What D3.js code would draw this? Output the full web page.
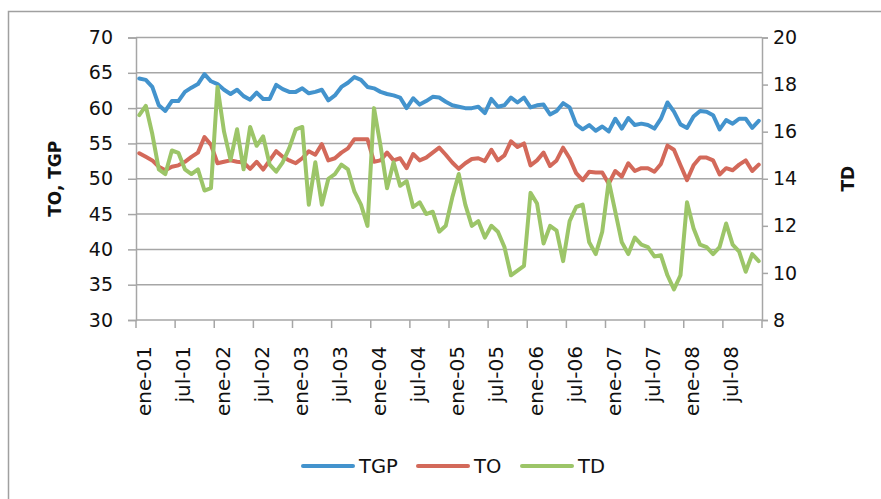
<!DOCTYPE html>
<html>
<head>
<meta charset="utf-8">
<script src="https://cdnjs.cloudflare.com/ajax/libs/d3/7.8.5/d3.min.js"></script>
<style>
  body { margin: 0; background: #fff; }
  text { font-family: "DejaVu Sans", sans-serif; fill: #111; }
</style>
</head>
<body>
<div id="chart"></div>
<script>
var monthNames = ["ene", "feb", "mar", "abr", "may", "jun", "jul", "ago", "sep", "oct", "nov", "dic"];
var years = ["01", "02", "03", "04", "05", "06", "07", "08"];

var tgp = [64.2, 64.0, 63.0, 60.4, 59.6, 61.0, 61.0, 62.3, 62.9, 63.4, 64.8, 63.8,
  63.4, 62.6, 62.0, 62.6, 61.7, 61.2, 62.2, 61.3, 61.3, 63.3, 62.7, 62.3,
  62.3, 62.8, 62.1, 62.3, 62.6, 61.1, 61.8, 63.0, 63.6, 64.4, 64.0, 63.0,
  62.8, 62.3, 62.0, 61.8, 61.5, 60.0, 61.4, 60.5, 61.0, 61.6, 61.5, 60.9,
  60.4, 60.2, 60.0, 60.0, 60.2, 59.3, 61.3, 60.2, 60.4, 61.5, 60.8, 61.5,
  60.1, 60.4, 60.5, 59.1, 59.6, 60.7, 60.1, 57.7, 57.0, 57.6, 56.8, 57.4,
  56.7, 58.5, 57.1, 58.6, 57.6, 57.8, 57.6, 57.1, 58.5, 60.8, 59.5, 57.7,
  57.2, 58.8, 59.6, 59.5, 59.0, 57.0, 58.3, 57.8, 58.5, 58.5, 57.2, 58.2];

var to = [53.6, 53.1, 52.6, 51.7, 51.2, 51.7, 51.9, 52.4, 53.1, 53.7, 55.9, 54.8,
  52.2, 52.4, 52.6, 52.4, 52.3, 51.4, 52.4, 51.3, 52.6, 53.9, 53.1, 52.6,
  52.2, 52.9, 53.9, 53.4, 54.9, 52.6, 52.9, 53.7, 54.3, 55.6, 55.6, 55.6,
  52.4, 52.6, 53.7, 52.6, 52.9, 51.5, 53.5, 52.6, 53.0, 53.7, 54.4, 53.4,
  52.3, 51.4, 52.2, 52.8, 52.9, 52.5, 54.1, 52.6, 53.3, 55.3, 54.5, 55.0,
  51.9, 52.6, 53.7, 51.8, 52.6, 54.4, 52.9, 50.8, 49.8, 51.0, 50.9, 50.9,
  49.3, 51.1, 50.3, 52.2, 51.1, 51.5, 51.5, 51.0, 52.1, 54.7, 54.1, 51.9,
  49.8, 51.9, 53.0, 53.0, 52.6, 50.6, 51.5, 51.2, 52.0, 52.6, 51.1, 52.0];

var td = [16.7, 17.1, 15.9, 14.4, 14.2, 15.2, 15.1, 14.4, 14.2, 14.4, 13.5, 13.6,
  17.9, 16.0, 14.8, 16.1, 14.4, 16.2, 15.4, 15.8, 14.6, 14.3, 14.7, 15.3,
  16.1, 16.2, 12.9, 14.7, 12.9, 14.0, 14.2, 14.6, 14.4, 13.45, 12.9, 12.0,
  17.0, 15.4, 13.6, 14.7, 13.7, 13.9, 12.8, 13.0, 12.5, 12.6, 11.75, 12.0,
  13.2, 14.2, 12.9, 12.0, 12.2, 11.5, 12.0, 11.75, 11.1, 9.9, 10.1, 10.3,
  13.4, 12.95, 11.25, 12.0, 11.8, 10.5, 12.2, 12.8, 12.9, 11.3, 10.8, 11.75,
  13.9, 12.6, 11.3, 10.8, 11.5, 11.2, 11.1, 10.7, 10.75, 9.9, 9.3, 9.9,
  13.0, 11.9, 11.2, 11.1, 10.8, 11.1, 12.1, 11.2, 10.9, 10.05, 10.8, 10.5];

var leftTicks = [30, 35, 40, 45, 50, 55, 60, 65, 70];
var rightTicks = [8, 10, 12, 14, 16, 18, 20];

var categories = [];
years.forEach(function(y) {
  monthNames.forEach(function(m) {
    categories.push(m + "-" + y);
  });
});

var series = [
  {name: "TGP", values: tgp, color: "#4393cd", axis: "left"},
  {name: "TO", values: to, color: "#d3695a", axis: "left"},
  {name: "TD", values: td, color: "#9cc568", axis: "right"}
];

var svgWidth = 881;
var svgHeight = 499;
var margin = {top: 37.5, right: 119, bottom: 179, left: 136};
var width = svgWidth - margin.left - margin.right;
var height = svgHeight - margin.top - margin.bottom;
var gridColor = "#a6a6a6";

var svg = d3.select("#chart")
  .append("svg")
  .attr("width", svgWidth)
  .attr("height", svgHeight);

svg.append("rect")
  .attr("width", svgWidth)
  .attr("height", svgHeight)
  .attr("fill", "#fff");

// chart border (runs off the right and bottom edges)
svg.append("rect")
  .attr("x", 8.5)
  .attr("y", 11.5)
  .attr("width", 900)
  .attr("height", 500)
  .attr("fill", "none")
  .attr("stroke", "#a0a0a0")
  .attr("stroke-width", 1.5);

var chartGroup = svg.append("g")
  .attr("transform", `translate(${margin.left}, ${margin.top})`);

var xBand = d3.scaleBand()
  .domain(categories)
  .range([0, width]);

var yLeft = d3.scaleLinear().domain([30, 70]).range([height, 0]);
var yRight = d3.scaleLinear().domain([8, 20]).range([height, 0]);

// horizontal gridlines
chartGroup.selectAll(".grid")
  .data(leftTicks.slice(1))
  .enter()
  .append("line")
  .attr("x1", 0)
  .attr("x2", width)
  .attr("y1", d => yLeft(d))
  .attr("y2", d => yLeft(d))
  .attr("stroke", gridColor)
  .attr("stroke-width", 1.5);

var leftAxis = d3.axisLeft(yLeft)
  .tickValues(leftTicks)
  .tickSize(8)
  .tickPadding(15);

var rightAxis = d3.axisRight(yRight)
  .tickValues(rightTicks)
  .tickSize(6)
  .tickPadding(5);

var yAxisLeft = chartGroup.append("g").call(leftAxis);
var yAxisRight = chartGroup.append("g")
  .attr("transform", `translate(${width}, 0)`)
  .call(rightAxis);

[yAxisLeft, yAxisRight].forEach(function(ax) {
  ax.select(".domain").attr("stroke", gridColor).attr("stroke-width", 1.5);
  ax.selectAll(".tick line").attr("stroke", gridColor).attr("stroke-width", 1.5);
  ax.selectAll(".tick text")
    .style("font-family", "DejaVu Sans")
    .style("font-size", "19px")
    .attr("fill", "#111");
});

// x axis: baseline, ticks between categories every 6 months
chartGroup.append("line")
  .attr("x1", 0)
  .attr("x2", width)
  .attr("y1", height)
  .attr("y2", height)
  .attr("stroke", gridColor)
  .attr("stroke-width", 1.5);

var tickIdx = d3.range(0, categories.length + 1, 6);
chartGroup.selectAll(".xtick")
  .data(tickIdx)
  .enter()
  .append("line")
  .attr("x1", d => d < categories.length ? xBand(categories[d]) : width)
  .attr("x2", d => d < categories.length ? xBand(categories[d]) : width)
  .attr("y1", height)
  .attr("y2", height + 8)
  .attr("stroke", gridColor)
  .attr("stroke-width", 1.5);

var labelCats = categories.filter((c, i) => i % 6 === 0);
chartGroup.selectAll(".xlabel")
  .data(labelCats)
  .enter()
  .append("text")
  .attr("transform", d => `translate(${xBand(d) + xBand.bandwidth() / 2 + 5}, ${height + 26}) rotate(-90)`)
  .attr("text-anchor", "end")
  .attr("dy", "0.35em")
  .style("font-size", "20px")
  .text(d => d);

// lines
series.forEach(function(s) {
  var yScale = s.axis === "left" ? yLeft : yRight;
  var line = d3.line()
    .x((d, i) => xBand(categories[i]) + xBand.bandwidth() / 2)
    .y(d => yScale(d));

  chartGroup.append("path")
    .datum(s.values)
    .attr("d", line)
    .attr("fill", "none")
    .attr("stroke", s.color)
    .attr("stroke-width", 4)
    .attr("stroke-linejoin", "round")
    .attr("stroke-linecap", "round");
});

// axis titles
svg.append("text")
  .attr("transform", `translate(55, ${margin.top + height / 2}) rotate(-90)`)
  .attr("text-anchor", "middle")
  .attr("dy", "0.35em")
  .style("font-size", "17px")
  .style("font-weight", "bold")
  .text("TO, TGP");

svg.append("text")
  .attr("transform", `translate(848, ${margin.top + height / 2}) rotate(-90)`)
  .attr("text-anchor", "middle")
  .attr("dy", "0.35em")
  .style("font-size", "17px")
  .style("font-weight", "bold")
  .text("TD");

// legend
var legendX = [303, 418, 522];
var legend = svg.selectAll(".legend")
  .data(series)
  .enter()
  .append("g")
  .attr("transform", (d, i) => `translate(${legendX[i]}, 466)`);

legend.append("line")
  .attr("x1", 0)
  .attr("x2", 50)
  .attr("stroke", d => d.color)
  .attr("stroke-width", 4)
  .attr("stroke-linecap", "round");

legend.append("text")
  .attr("x", 56)
  .attr("dy", "0.36em")
  .style("font-size", "19.5px")
  .text(d => d.name);
</script>
</body>
</html>
